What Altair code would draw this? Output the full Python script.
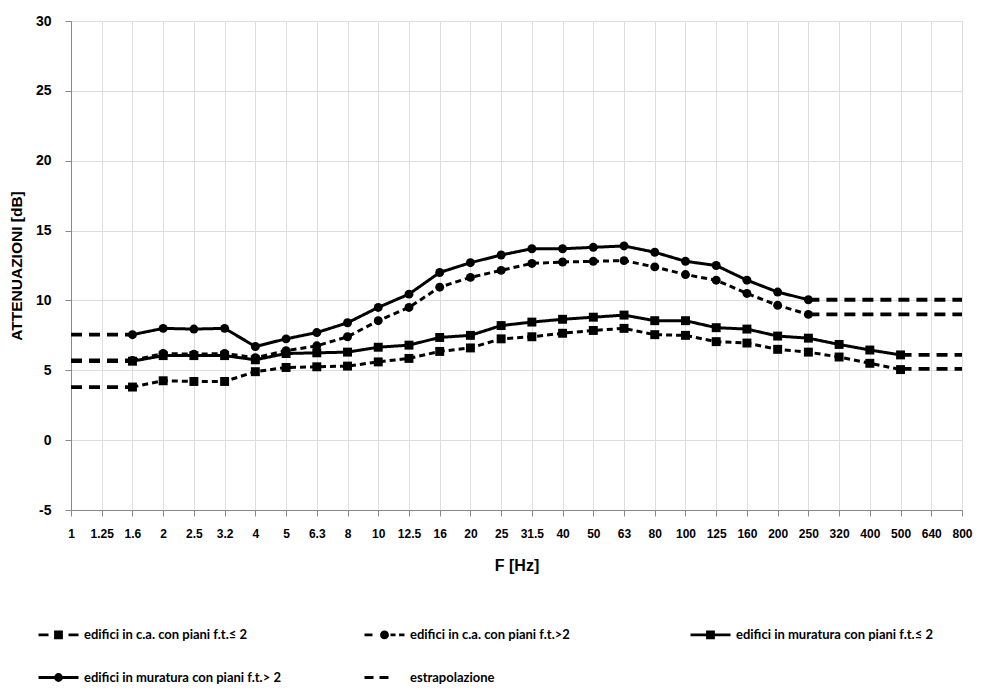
import altair as alt
import pandas as pd

categories = ["1", "1.25", "1.6", "2", "2.5", "3.2", "4", "5", "6.3", "8", "10", "12.5",
              "16", "20", "25", "31.5", "40", "50", "63", "80", "100", "125", "160",
              "200", "250", "320", "400", "500", "640", "800"]

series_names = [
    "edifici in c.a. con piani f.t.≤ 2",
    "edifici in c.a. con piani f.t.>2",
    "edifici in muratura con piani f.t.≤ 2",
    "edifici in muratura con piani f.t.> 2",
]
extrap_name = "estrapolazione"

N = None
vals_ca_le2 = [N, N, 3.8, 4.25, 4.2, 4.2, 4.9, 5.2, 5.25, 5.3, 5.6, 5.85, 6.35, 6.6, 7.25,
               7.4, 7.65, 7.85, 8.0, 7.55, 7.5, 7.05, 6.95, 6.5, 6.3, 5.95, 5.5, 5.05, N, N]
vals_ca_gt2 = [N, N, 5.7, 6.2, 6.15, 6.2, 5.9, 6.4, 6.75, 7.4, 8.55, 9.5, 10.95, 11.65, 12.15,
               12.65, 12.75, 12.8, 12.85, 12.4, 11.85, 11.45, 10.5, 9.65, 9.0, N, N, N, N, N]
vals_mu_le2 = [N, N, 5.65, 6.05, 6.05, 6.05, 5.75, 6.2, 6.25, 6.3, 6.65, 6.8, 7.35, 7.5, 8.2,
               8.45, 8.65, 8.8, 8.95, 8.55, 8.55, 8.05, 7.95, 7.45, 7.3, 6.85, 6.45, 6.1, N, N]
vals_mu_gt2 = [N, N, 7.55, 8.0, 7.95, 8.0, 6.7, 7.25, 7.7, 8.4, 9.5, 10.45, 12.0, 12.7, 13.25,
               13.7, 13.7, 13.8, 13.9, 13.45, 12.8, 12.5, 11.45, 10.6, 10.05, N, N, N, N, N]

ext_left_value = [3.8, 5.7, 5.65, 7.55]
ext_left_from = ["1", "1", "1", "1"]
ext_left_to = ["1.6", "1.6", "1.6", "1.6"]
ext_right_value = [5.1, 9.0, 6.1, 10.05]
ext_right_from = ["500", "250", "500", "250"]
ext_right_to = ["800", "800", "800", "800"]

markers = ["square", "circle", "square", "circle"]
styles = ["dash", "dash", "solid", "solid"]

all_vals = [vals_ca_le2, vals_ca_gt2, vals_mu_le2, vals_mu_gt2]

rows = []
for name, vals, mk, st in zip(series_names, all_vals, markers, styles):
    for f, v in zip(categories, vals):
        if v is not None:
            rows.append({"freq": f, "value": v, "series": name, "marker": mk, "style": st})
main_df = pd.DataFrame(rows)

ext_rows = []
for k, name in enumerate(series_names):
    for f in (ext_left_from[k], ext_left_to[k]):
        ext_rows.append({"freq": f, "value": ext_left_value[k], "seg": name + "_L"})
    for f in (ext_right_from[k], ext_right_to[k]):
        ext_rows.append({"freq": f, "value": ext_right_value[k], "seg": name + "_R"})
ext_df = pd.DataFrame(ext_rows)

# legend glyphs (drawn with strokes only): line pieces + a stroked marker
SQ = "M-0.15,-0.15H0.15V0.15H-0.15ZM-0.06,-0.06H0.06V0.06H-0.06Z"
CI = ("M0.15,0A0.15,0.15,0,1,1,-0.15,0A0.15,0.15,0,1,1,0.15,0Z"
      "M0.06,0A0.06,0.06,0,1,1,-0.06,0A0.06,0.06,0,1,1,0.06,0Z")
legend_labels = series_names + [extrap_name]
legend_paths = [
    "M-1,0H-0.5M0.5,0H1" + SQ,
    "M-1,0H-0.6M0.3,0H0.55M0.73,0H1" + CI,
    "M-1,0H1" + SQ,
    "M-1,0H1" + CI,
    "M-1,0H-0.55M-0.25,0H0.2",
]
legend_df = pd.DataFrame({"label": legend_labels})

FONT = "Lato"
GRID = "#8c8c8c"

x_enc = alt.X(
    "freq:N", sort=categories,
    scale=alt.Scale(type="point", padding=0, domain=categories),
    axis=alt.Axis(title="F [Hz]", labelAngle=0, labelOverlap=False, grid=True,
                  tickSize=6, labelPadding=12, titlePadding=18,
                  labelFontSize=12, titleFontSize=16,
                  labelFontWeight="bold", titleFontWeight="bold"),
)
y_enc = alt.Y(
    "value:Q",
    scale=alt.Scale(domain=[-5, 30], nice=False, zero=False),
    axis=alt.Axis(title="ATTENUAZIONI [dB]", values=list(range(-5, 31, 5)),
                  labelExpr="'' + datum.value",
                  tickSize=6, labelPadding=14, titlePadding=11,
                  labelFontSize=14, titleFontSize=15.5,
                  labelFontWeight="bold", titleFontWeight="bold"),
)

lines = alt.Chart(main_df).mark_line(color="black", strokeWidth=3).encode(
    x=x_enc, y=y_enc, detail="series:N",
    strokeDash=alt.StrokeDash("style:N", scale=alt.Scale(domain=["solid", "dash"], range=[[1, 0], [6, 4]]),
                              legend=None),
)

ext_lines = alt.Chart(ext_df).mark_line(color="black", strokeWidth=3.8, strokeDash=[11, 7]).encode(
    x=x_enc, y=y_enc, detail="seg:N",
)

points = alt.Chart(main_df).mark_point(filled=True, color="black", opacity=1, size=80).encode(
    x=x_enc, y=y_enc,
    shape=alt.Shape("marker:N", scale=alt.Scale(domain=["square", "circle"], range=["square", "circle"]),
                    legend=None),
)

legend_layer = alt.Chart(legend_df).mark_point(
    filled=False, color="black", strokeWidth=2.8, opacity=1, size=1600, clip=True
).encode(
    x=alt.value(-500), y=alt.value(-500),
    shape=alt.Shape(
        "label:N",
        scale=alt.Scale(domain=legend_labels, range=legend_paths),
        legend=alt.Legend(
            title=None, orient="none", legendX=-34, legendY=592, direction="horizontal",
            columns=3, columnPadding=77, rowPadding=12, gridAlign="all",
            symbolSize=1600, symbolStrokeWidth=2.8, symbolStrokeColor="black",
            labelFontSize=13, labelFontWeight="bold",
            labelFont=FONT, labelColor="black", labelLimit=400, labelOffset=4,
        ),
    ),
)

chart = alt.layer(ext_lines, lines, points, legend_layer).resolve_scale(
    shape="independent", strokeDash="independent"
).resolve_legend(shape="independent").properties(
    width=891, height=489,
    autosize=alt.AutoSizeParams(type="none"),
    padding={"left": 63, "top": 13, "right": 11, "bottom": 177},
).configure_view(stroke="#5a5a5a", strokeWidth=1.8).configure_axis(
    gridColor=GRID, gridWidth=2.4, domainColor=GRID, tickColor=GRID, domainWidth=2.2, tickWidth=2.2,
    labelFont=FONT, titleFont=FONT, labelColor="black", titleColor="black",
).configure(background="white")

chart.save("out.html", embed_options={"renderer": "svg", "actions": False})
